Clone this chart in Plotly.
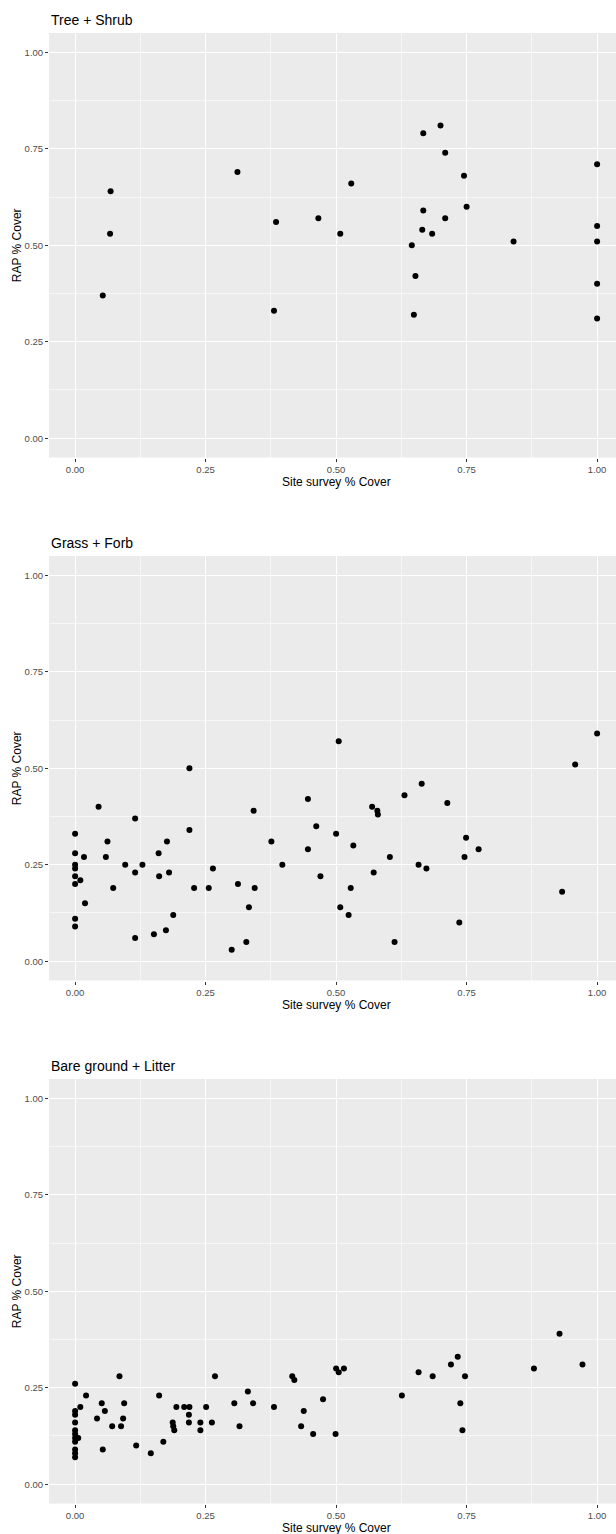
import plotly.graph_objects as go

# ---------------- data ----------------
tree_x = [0.053, 0.067, 0.068, 0.311, 0.385, 0.381, 0.466, 0.508, 0.529, 0.645, 0.652, 0.649,
          0.665, 0.667, 0.667, 0.684, 0.700, 0.709, 0.709, 0.745, 0.750, 0.840,
          1.0, 1.0, 1.0, 1.0, 1.0]
tree_y = [0.37, 0.53, 0.64, 0.69, 0.56, 0.33, 0.57, 0.53, 0.66, 0.50, 0.42, 0.32,
          0.54, 0.59, 0.79, 0.53, 0.81, 0.74, 0.57, 0.68, 0.60, 0.51,
          0.71, 0.55, 0.51, 0.40, 0.31]

grass_x = [0, 0, 0, 0, 0, 0, 0, 0,
           0.017, 0.010, 0.019, 0.045, 0.062, 0.059, 0.073, 0.096, 0.115, 0.115, 0.115, 0.129,
           0.151, 0.160, 0.161, 0.176, 0.180, 0.174, 0.188, 0.219, 0.219, 0.228, 0.256, 0.264,
           0.300, 0.312, 0.328, 0.333, 0.342, 0.344,
           0.376, 0.397, 0.446, 0.446, 0.462, 0.470, 0.500, 0.505, 0.508, 0.524, 0.528, 0.533,
           0.569, 0.572, 0.579, 0.580, 0.603, 0.612, 0.631, 0.658, 0.664, 0.673, 0.713, 0.736,
           0.746, 0.749, 0.773, 0.933, 0.958, 1.0]
grass_y = [0.33, 0.28, 0.25, 0.24, 0.22, 0.20, 0.11, 0.09,
           0.27, 0.21, 0.15, 0.40, 0.31, 0.27, 0.19, 0.25, 0.37, 0.23, 0.06, 0.25,
           0.07, 0.28, 0.22, 0.31, 0.23, 0.08, 0.12, 0.50, 0.34, 0.19, 0.19, 0.24,
           0.03, 0.20, 0.05, 0.14, 0.39, 0.19,
           0.31, 0.25, 0.42, 0.29, 0.35, 0.22, 0.33, 0.57, 0.14, 0.12, 0.19, 0.30,
           0.40, 0.23, 0.39, 0.38, 0.27, 0.05, 0.43, 0.25, 0.46, 0.24, 0.41, 0.10,
           0.27, 0.32, 0.29, 0.18, 0.51, 0.59]

bare_x = [0, 0, 0, 0, 0, 0, 0, 0, 0, 0, 0,
          0.006, 0.010, 0.021, 0.051, 0.057, 0.042, 0.053, 0.071, 0.085, 0.094, 0.092, 0.088,
          0.117, 0.145, 0.161, 0.169, 0.194, 0.209, 0.219, 0.218, 0.218, 0.187, 0.188, 0.190,
          0.240, 0.240, 0.251, 0.262, 0.268,
          0.331, 0.305, 0.341, 0.315, 0.381, 0.416, 0.420, 0.438, 0.433, 0.456, 0.475,
          0.500, 0.505, 0.515, 0.499,
          0.626, 0.658, 0.685, 0.720, 0.733, 0.747, 0.738, 0.742, 0.879, 0.928, 0.972]
bare_y = [0.26, 0.19, 0.18, 0.16, 0.14, 0.13, 0.12, 0.11, 0.09, 0.08, 0.07,
          0.12, 0.20, 0.23, 0.21, 0.19, 0.17, 0.09, 0.15, 0.28, 0.21, 0.17, 0.15,
          0.10, 0.08, 0.23, 0.11, 0.20, 0.20, 0.20, 0.18, 0.16, 0.16, 0.15, 0.14,
          0.16, 0.14, 0.20, 0.16, 0.28,
          0.24, 0.21, 0.21, 0.15, 0.20, 0.28, 0.27, 0.19, 0.15, 0.13, 0.22,
          0.30, 0.29, 0.30, 0.13,
          0.23, 0.29, 0.28, 0.31, 0.33, 0.28, 0.21, 0.14, 0.30, 0.39, 0.31]

titles = ["Tree + Shrub", "Grass + Forb", "Bare ground + Litter"]
tick_vals = [0, 0.25, 0.5, 0.75, 1.0]
tick_text = ["0.00", "0.25", "0.50", "0.75", "1.00"]
minor_vals = [0.125, 0.375, 0.625, 0.875]
x_label = "Site survey % Cover"
y_label = "RAP % Cover"

# ---------------- layout geometry (pixels) ----------------
W, H = 616, 1534
LEFT, RIGHT = 49, 616
PX_PER_UNIT_X = 522.0
panel_tops = [33, 556, 1079]
PANEL_H = 424.5
FONT = "Liberation Sans, Arial, Helvetica"

fig = go.Figure()
series = [(tree_x, tree_y), (grass_x, grass_y), (bare_x, bare_y)]

annotations = []
layout_axes = {}
for i, ((xs, ys), title, top) in enumerate(zip(series, titles, panel_tops)):
    n = "" if i == 0 else str(i + 1)
    bottom = top + PANEL_H
    fig.add_trace(go.Scatter(
        x=xs, y=ys, mode="markers",
        marker=dict(color="black", size=6, line=dict(width=0)),
        xaxis="x" + n, yaxis="y" + n, showlegend=False, hoverinfo="skip"))
    common = dict(
        tickvals=tick_vals, ticktext=tick_text, ticks="outside", ticklen=3,
        tickwidth=1, tickcolor="#333333",
        tickfont=dict(family=FONT, size=9.5, color="#4D4D4D"),
        showgrid=True, gridcolor="white", gridwidth=1.1,
        minor=dict(tickvals=minor_vals, showgrid=True, gridcolor="white",
                   gridwidth=0.55, ticks=""),
        zeroline=False, showline=False, fixedrange=True)
    xr0 = -0.05
    xr1 = xr0 + (RIGHT - LEFT) / PX_PER_UNIT_X
    layout_axes["xaxis" + n] = dict(
        domain=[LEFT / W, RIGHT / W], range=[xr0, xr1],
        anchor="y" + n, **common)
    layout_axes["yaxis" + n] = dict(
        domain=[1 - bottom / H, 1 - top / H], range=[-0.05, 1.05],
        anchor="x" + n, **common)
    # panel title
    annotations.append(dict(
        text=title, x=LEFT / W, y=1 - (top - 13) / H, xref="paper", yref="paper",
        xanchor="left", yanchor="middle", showarrow=False,
        font=dict(family=FONT, size=14, color="black")))
    # x-axis title
    annotations.append(dict(
        text=x_label, x=(LEFT + 26 + PX_PER_UNIT_X * 0.5) / W,
        y=1 - (bottom + 24) / H, xref="paper", yref="paper",
        xanchor="center", yanchor="middle", showarrow=False,
        font=dict(family=FONT, size=12, color="black")))
    # y-axis title
    annotations.append(dict(
        text=y_label, x=17 / W, y=1 - (top + PANEL_H / 2) / H,
        xref="paper", yref="paper", xanchor="center", yanchor="middle",
        textangle=-90, showarrow=False,
        font=dict(family=FONT, size=12, color="black")))

fig.update_layout(
    width=W, height=H, margin=dict(l=0, r=0, t=0, b=0),
    paper_bgcolor="white", plot_bgcolor="#EBEBEB",
    annotations=annotations, **layout_axes)

fig.write_html("out.html",
               config={"displayModeBar": False, "staticPlot": True},
               post_script="document.body.style.margin='0';document.body.style.overflow='hidden';")
